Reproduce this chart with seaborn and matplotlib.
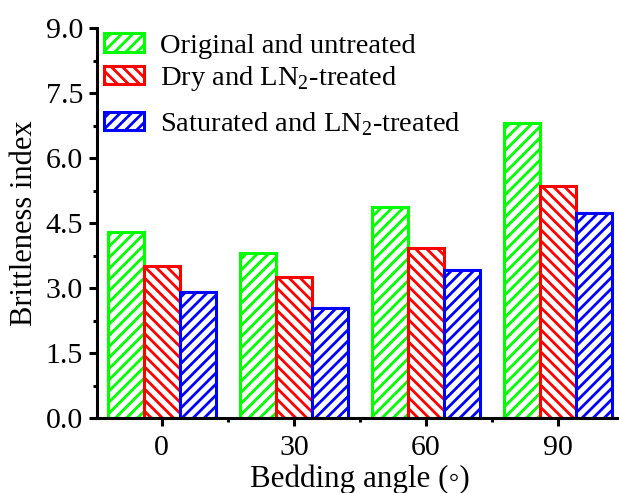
import numpy as np
import pandas as pd
import matplotlib
matplotlib.use("Agg")
import matplotlib.pyplot as plt
import seaborn as sns
from matplotlib.ticker import MultipleLocator, FixedLocator

# Brittleness index per bedding angle for each treatment
angles = ["0", "30", "60", "90"]
groups = ["Original and untreated",
          r"Dry and LN$_\mathregular{2}$-treated",
          r"Saturated and LN$_\mathregular{2}$-treated"]
original = [4.29, 3.80, 4.86, 6.80]
dry_ln2 = [3.51, 3.26, 3.92, 5.36]
saturated_ln2 = [2.90, 2.55, 3.42, 4.74]
colors = ["#00FF00", "#FF0000", "#0000FF"]
hatches = ["///", "\\\\\\", "///"]
y_ticks = [0.0, 1.5, 3.0, 4.5, 6.0, 7.5, 9.0]

df = pd.DataFrame({
    "angle": angles * 3,
    "group": [groups[0]] * 4 + [groups[1]] * 4 + [groups[2]] * 4,
    "value": original + dry_ln2 + saturated_ln2,
})

sns.set_theme(style="ticks")
plt.rcParams["font.family"] = ["Liberation Serif", "DejaVu Sans"]
plt.rcParams["mathtext.fontset"] = "custom"
plt.rcParams["mathtext.rm"] = "Liberation Serif"
plt.rcParams["hatch.linewidth"] = 2.0

fig = plt.figure(figsize=(6.19, 4.93), dpi=100)
ax = fig.add_axes([97 / 619, 1 - 418 / 493, (623 - 97) / 619, (418 - 28) / 493])

sns.barplot(data=df, x="angle", y="value", hue="group", order=angles,
            hue_order=groups, palette=colors, width=0.82, dodge=True,
            ax=ax, legend=False, errorbar=None)

for cont, col, h in zip(ax.containers, colors, hatches):
    for bar in cont:
        bar.set_facecolor("white")
        bar.set_edgecolor(col)
        bar.set_linewidth(2.2)
        bar.set_hatch(h)

ax.set_xlim(-0.49, 3.49)
ax.set_ylim(0, 9.0)
ax.yaxis.set_major_locator(FixedLocator(y_ticks))
ax.yaxis.set_minor_locator(MultipleLocator(0.75))
ax.xaxis.set_minor_locator(FixedLocator([0.5, 1.5, 2.5]))
ax.set_yticklabels([f"{v:.1f}" for v in y_ticks])

for side in ["top", "right"]:
    ax.spines[side].set_visible(False)
for side in ["left", "bottom"]:
    ax.spines[side].set_linewidth(2.2)
    ax.spines[side].set_color("black")

ax.tick_params(axis="both", which="major", direction="out", length=5.5, width=2.2,
               labelsize=21.5, colors="black", pad=4.5)
ax.tick_params(axis="both", which="minor", direction="out", length=3, width=2.2,
               colors="black")
ax.tick_params(axis="x", which="major", pad=7)

ax.set_xlabel("Bedding angle (\u25e6)", fontsize=22.3, labelpad=2, color="black")
ax.set_ylabel("Brittleness index", fontsize=22, labelpad=5, color="black")

legend_kw = dict(bbox_transform=fig.transFigure, frameon=False, fontsize=20.5,
                 handlelength=1.4, handleheight=0.6, handletextpad=0.55,
                 labelspacing=0.2, borderpad=0, borderaxespad=0)
handles = list(ax.containers)

# first two treatments, then the saturated one a little lower
leg1 = ax.legend(handles[:2], groups[:2], loc="upper left",
                 bbox_to_anchor=(104 / 619, 1 - 33.5 / 493), **legend_kw)
ax.add_artist(leg1)
leg2 = ax.legend(handles[2:], groups[2:], loc="center left",
                 bbox_to_anchor=(104 / 619, 1 - 124 / 493), **legend_kw)
for leg in (leg1, leg2):
    for t in leg.get_texts():
        t.set_color("black")

fig.savefig("out.png", dpi=100)
